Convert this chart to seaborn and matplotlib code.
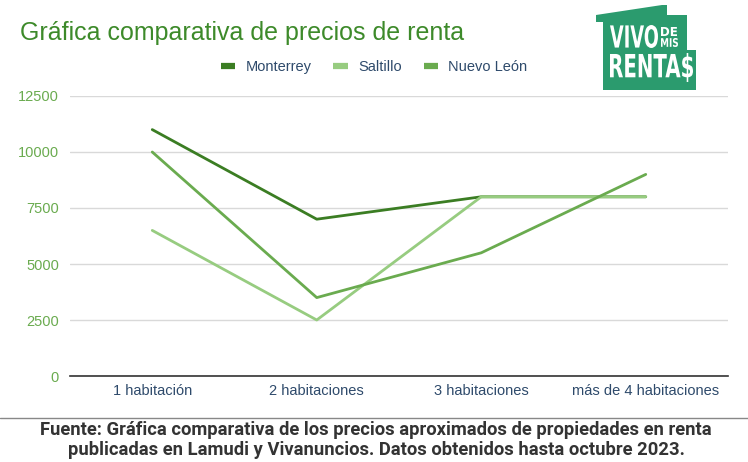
import matplotlib
matplotlib.use("Agg")
import matplotlib.pyplot as plt
import seaborn as sns
import pandas as pd
from matplotlib.patches import Polygon, PathPatch
from matplotlib.lines import Line2D
from matplotlib.textpath import TextPath
from matplotlib.font_manager import FontProperties
from matplotlib.transforms import Affine2D

categories = ["1 habitación", "2 habitaciones", "3 habitaciones", "más de 4 habitaciones"]
monterrey = [11000, 7000, 8000, 8000]
saltillo = [6500, 2500, 8000, 8000]
nuevo_leon = [10000, 3500, 5500, 9000]
series_names = ["Monterrey", "Saltillo", "Nuevo León"]
yticks = [0, 2500, 5000, 7500, 10000, 12500]

colors = ["#3b7d23", "#97cc80", "#6aab4f"]

rows = []
for name, vals in zip(series_names, [monterrey, saltillo, nuevo_leon]):
    for i, (c, v) in enumerate(zip(categories, vals)):
        rows.append({"cat": c, "pos": i, "serie": name, "valor": v})
df = pd.DataFrame(rows)

sns.set_theme(style="white")
plt.rcParams["font.family"] = ["Liberation Sans", "DejaVu Sans"]

W, H = 748, 462
fig = plt.figure(figsize=(7.48, 4.62), dpi=100)
ax = fig.add_axes([70/W, 1-376/H, (728-70)/W, (376-96)/H])

sns.lineplot(data=df, x="pos", y="valor", hue="serie", hue_order=series_names,
             palette=colors, linewidth=2, ax=ax, legend=False)

ax.set_xlim(-0.5, 3.5)
ax.set_ylim(0, 12500)
ax.set_yticks(yticks)
ax.set_yticklabels([str(t) for t in yticks], color="#6aab4f", fontsize=10.5)
ax.set_xticks(range(len(categories)))
ax.set_xticklabels(categories, color="#2e4a6b", fontsize=10.5)
ax.tick_params(axis="both", length=0)
ax.tick_params(axis="y", pad=8)
ax.tick_params(axis="x", pad=6)
ax.set_xlabel("")
ax.set_ylabel("")
ax.grid(axis="y", color="#d9d9d9", linewidth=1)
ax.set_axisbelow(True)
for s in ["top", "right", "left"]:
    ax.spines[s].set_visible(False)
ax.spines["bottom"].set_color("#333333")
ax.spines["bottom"].set_linewidth(1.2)

# Legend
handles = [Line2D([0], [0], color=c, linewidth=4.5, solid_capstyle="butt") for c in colors]
leg = fig.legend(handles, series_names, loc="center", bbox_to_anchor=(374/W, 1-67/H),
                 ncol=3, frameon=False, fontsize=10.5, handlelength=1.0,
                 columnspacing=1.5, handletextpad=0.7)
for t in leg.get_texts():
    t.set_color("#2e4a6b")

# Title
fig.text(20/W, 1-33/H, "Gráfica comparativa de precios de renta", fontsize=18,
         color="#3d8a2a", va="center", ha="left")

# Logo (house shape)
logo_color = "#2b9b6e"
house = [(596, 15), (662, 5), (667, 5), (667, 15), (687, 15), (687, 50), (696, 50),
         (696, 90), (603, 90), (603, 22), (596, 22)]
poly = Polygon([(x/W, 1-y/H) for x, y in house], closed=True,
               transform=fig.transFigure, facecolor=logo_color, edgecolor="none")
fig.patches.append(poly)

fp = FontProperties(family="DejaVu Sans", weight="bold")


def fit_text(s, x0, y0, x1, y1):
    tp = TextPath((0, 0), s, prop=fp, size=10)
    ext = tp.get_extents()
    sx = (x1 - x0) / W / ext.width
    sy = (y1 - y0) / H / ext.height
    tr = (Affine2D().translate(-ext.x0, -ext.y0).scale(sx, sy)
          .translate(x0 / W, 1 - y1 / H))
    patch = PathPatch(tr.transform_path(tp), transform=fig.transFigure,
                      facecolor="white", edgecolor="none")
    fig.patches.append(patch)


fit_text("VIVO", 610, 25, 658, 48)
fit_text("DE", 661, 27, 677, 36)
fit_text("MIS", 661, 38, 678, 47)
fit_text("RENTA$", 610, 53, 693, 82)

# Separator line
fig.add_artist(Line2D([0, 1], [1-418/H, 1-418/H], transform=fig.transFigure,
                      color="#888888", linewidth=1))

fig.text(376/W, 1-440/H,
         "Fuente: Gráfica comparativa de los precios aproximados de propiedades en renta\n"
         "publicadas en Lamudi y Vivanuncios. Datos obtenidos hasta octubre 2023.",
         fontsize=13.2, fontweight="bold", color="#333333", ha="center", va="center",
         linespacing=1.2, family=["Roboto", "DejaVu Sans"])

fig.savefig("out.png", dpi=100)
